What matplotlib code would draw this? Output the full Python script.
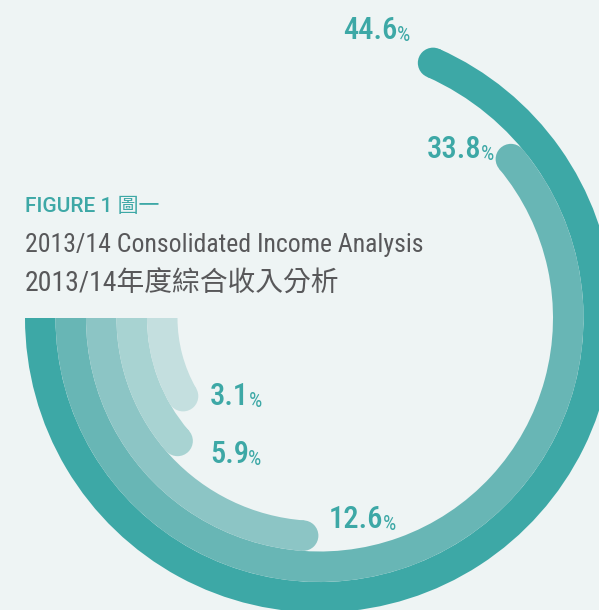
import matplotlib
matplotlib.use("Agg")
import matplotlib.pyplot as plt
from matplotlib.patches import Wedge, Circle
from matplotlib import font_manager
import numpy as np

# ---- data ----
values = [44.6, 33.8, 12.6, 5.9, 3.1]            # percentages (outer -> inner)
sweep_deg = [246.0, 219.7, 85.7, 40.9, 29.8]     # arc sweep as drawn in the figure
value_labels = ["44.6", "33.8", "12.6", "5.9", "3.1"]
title_tag = "FIGURE 1 圖一"
title_en = "2013/14 Consolidated Income Analysis"
title_zh = "2013/14年度綜合收入分析"

colors = ["#3da8a6", "#68b6b5", "#8cc5c5", "#a8d3d2", "#c4dfdf"]
bg = "#eef4f4"
teal = "#3da8a6"
gray = "#58585a"

names = {f.name for f in font_manager.fontManager.ttflist}
narrow = None
for cand in ["Roboto Condensed", "Liberation Sans Narrow", "Open Sans Condensed", "DejaVu Sans"]:
    if cand in names:
        narrow = cand
        break
cond_stretch = "condensed"

W, H = 599, 610
fig = plt.figure(figsize=(W / 100, H / 100), dpi=100, facecolor=bg)
ax = fig.add_axes([0, 0, 1, 1])
ax.set_xlim(0, W)
ax.set_ylim(0, H)
ax.set_aspect("equal")
ax.axis("off")
ax.set_facecolor(bg)

cx, cy = 319.5, H - 318
R = 294.5
ring_w = 30.5

for i, (sw, col) in enumerate(zip(sweep_deg, colors)):
    r_out = R - i * ring_w
    t1, t2 = 180.0, 180.0 + sw
    ax.add_patch(Wedge((cx, cy), r_out, t1, t2, width=ring_w, facecolor=col, edgecolor="none"))
    rc = r_out - ring_w / 2
    a = np.deg2rad(t2)
    ax.add_patch(Circle((cx + rc * np.cos(a), cy + rc * np.sin(a)), ring_w / 2,
                        facecolor=col, edgecolor="none"))

# value labels (positions in pixel coords of the image: left x, baseline y)
label_pos = [(343, 39), (427, 158), (329, 528), (210, 463), (210, 405)]
for txt, (lx, ly) in zip(value_labels, label_pos):
    t = ax.text(lx, H - ly, txt, fontsize=22, color=teal, family=narrow,
                fontstretch=cond_stretch, fontweight="medium", ha="left", va="baseline")
    ax.annotate("%", xy=(1, 0), xycoords=t, xytext=(-0.5, 0.3), textcoords="offset points",
                fontsize=15, color=teal, family=narrow, fontstretch=cond_stretch,
                fontweight="normal", ha="left", va="bottom")

ax.text(25, H - 212, title_tag, fontsize=15, color=teal, fontweight="medium",
        family=["Roboto", "Noto Sans CJK TC"], ha="left", va="baseline")
ax.text(25, H - 252, title_en, fontsize=18.5, color=gray, fontweight="normal",
        family=[narrow], fontstretch=cond_stretch, ha="left", va="baseline")
ax.text(25, H - 291.5, title_zh, fontsize=20, color=gray, fontweight="normal",
        family=[narrow, "Noto Sans CJK TC"], ha="left", va="baseline")

fig.savefig("out.png", dpi=100, facecolor=bg)
